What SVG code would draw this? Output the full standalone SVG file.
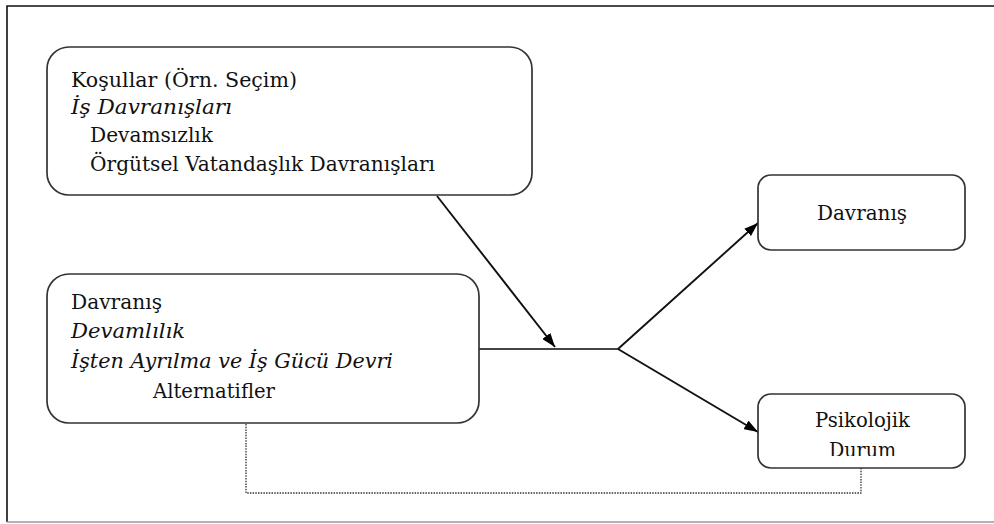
<svg xmlns="http://www.w3.org/2000/svg" width="994" height="524" viewBox="0 0 994 524">
<style>
.box{fill:#fff;stroke:#333;stroke-width:1.7}
.t{font-family:"DejaVu Serif","Liberation Serif",serif;font-size:20px;fill:#111}
.i{font-style:italic}
.ln{fill:none;stroke:#111;stroke-width:1.9}
.dot{fill:none;stroke:#333;stroke-width:1.3;stroke-dasharray:1.5 1.2}
</style>
<defs>
<marker id="ah" viewBox="0 0 14 10" refX="14" refY="5" markerWidth="14" markerHeight="10" markerUnits="userSpaceOnUse" orient="auto">
<path d="M0,0 L14,5 L0,10 Z" fill="#000"/>
</marker>
<clipPath id="clipDurum"><rect x="760" y="395" width="204" height="61"/></clipPath>
</defs>
<rect width="994" height="524" fill="#fff"/>
<g id="frame">
<path d="M994,6 H7 V522" fill="none" stroke="#111" stroke-width="1.6"/>
<path d="M7,522 H994" fill="none" stroke="#999" stroke-width="1.6"/>
</g>
<g id="connectors">
<line class="ln" x1="437" y1="196" x2="555" y2="347" marker-end="url(#ah)"/>
<line x1="479" y1="349" x2="618" y2="349" stroke="#444" stroke-width="2.2"/>
<line class="ln" x1="618" y1="349" x2="758" y2="223" marker-end="url(#ah)"/>
<line class="ln" x1="618" y1="349" x2="758" y2="432" marker-end="url(#ah)"/>
<path class="dot" d="M246,424 V493 H861 V468"/>
</g>
<g id="node-kosullar">
<rect class="box" x="47" y="47" width="485" height="148" rx="22"/>
<text class="t" x="71" y="86.5" textLength="226" lengthAdjust="spacingAndGlyphs">Koşullar (Örn. Seçim)</text>
<text class="t i" x="71" y="114" textLength="161" lengthAdjust="spacingAndGlyphs">İş Davranışları</text>
<text class="t" x="90" y="142" textLength="123" lengthAdjust="spacingAndGlyphs">Devamsızlık</text>
<text class="t" x="90" y="171" textLength="345" lengthAdjust="spacingAndGlyphs">Örgütsel Vatandaşlık Davranışları</text>
</g>
<g id="node-davranis-left">
<rect class="box" x="47" y="274" width="432" height="149" rx="22"/>
<text class="t" x="71" y="309" textLength="91" lengthAdjust="spacingAndGlyphs">Davranış</text>
<text class="t i" x="71" y="338" textLength="114" lengthAdjust="spacingAndGlyphs">Devamlılık</text>
<text class="t i" x="71" y="368" textLength="322" lengthAdjust="spacingAndGlyphs">İşten Ayrılma ve İş Gücü Devri</text>
<text class="t" x="153" y="398" textLength="122" lengthAdjust="spacingAndGlyphs">Alternatifler</text>
</g>
<g id="node-davranis-right">
<rect class="box" x="758" y="175" width="207" height="75" rx="13"/>
<text class="t" x="817" y="220" textLength="90" lengthAdjust="spacingAndGlyphs">Davranış</text>
</g>
<g id="node-psikolojik">
<rect class="box" x="758" y="394" width="207" height="74" rx="13"/>
<text class="t" x="815" y="427" textLength="95" lengthAdjust="spacingAndGlyphs">Psikolojik</text>
<text class="t" x="829" y="457" textLength="67" lengthAdjust="spacingAndGlyphs" clip-path="url(#clipDurum)">Durum</text>
</g>
</svg>
